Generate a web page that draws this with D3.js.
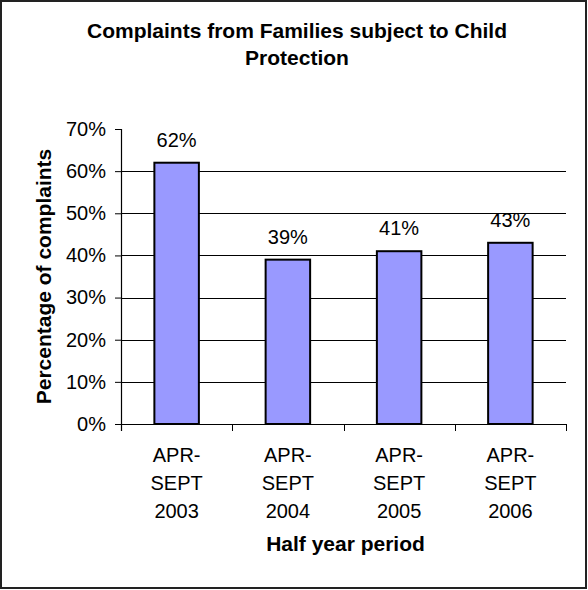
<!DOCTYPE html>
<html>
<head>
<meta charset="utf-8">
<script src="https://cdn.jsdelivr.net/npm/d3@7"></script>
<style>
  body { margin: 0; background: #fff; }
  svg text { font-family: "Liberation Sans", Arial, sans-serif; fill: #000; }
</style>
</head>
<body>
<div id="chart"></div>
<script>
// chart data
const periods = ["2003", "2004", "2005", "2006"];
const periodLines = [["APR-", "SEPT", "2003"], ["APR-", "SEPT", "2004"], ["APR-", "SEPT", "2005"], ["APR-", "SEPT", "2006"]];
const percentages = [0.62, 0.39, 0.41, 0.43];
const yTicks = [0, 0.1, 0.2, 0.3, 0.4, 0.5, 0.6, 0.7];
const titleLines = ["Complaints from Families subject to Child", "Protection"];

const width = 588, height = 590;
const plot = { left: 121, right: 566, top: 129, bottom: 424 };

let svg = d3.select("#chart").append("svg")
    .attr("width", width)
    .attr("height", height);

// outer border
svg.append("rect")
    .attr("x", 1).attr("y", 1)
    .attr("width", width - 3).attr("height", height - 3)
    .attr("fill", "#fff")
    .attr("stroke", "#222")
    .attr("stroke-width", 2);

let y = d3.scaleLinear().domain([0, 0.7]).range([plot.bottom, plot.top]);
let xCat = d3.scaleBand().domain(periods).range([plot.left, plot.right]);
let xBar = d3.scaleBand().domain(periods).range([plot.left, plot.right])
    .paddingInner(0.6).paddingOuter(0.3);

// gridlines (no line at the top value)
svg.append("g").selectAll("line")
    .data(yTicks.filter(d => d > 0 && d < 0.7))
    .enter()
    .append("line")
    .attr("x1", plot.left).attr("x2", plot.right)
    .attr("y1", d => Math.round(y(d)) + 0.5)
    .attr("y2", d => Math.round(y(d)) + 0.5)
    .attr("stroke", "#000")
    .attr("stroke-width", 1);

// bars
svg.append("g").selectAll("rect")
    .data(percentages)
    .enter()
    .append("rect")
    .attr("x", (d, i) => xBar(periods[i]))
    .attr("y", d => y(d))
    .attr("width", xBar.bandwidth())
    .attr("height", d => y(0) - y(d))
    .attr("fill", "#9999ff")
    .attr("stroke", "#000")
    .attr("stroke-width", 2);

// value labels
svg.append("g").selectAll("text")
    .data(percentages)
    .enter()
    .append("text")
    .attr("x", (d, i) => xBar(periods[i]) + xBar.bandwidth() / 2)
    .attr("y", d => y(d) - 16)
    .attr("text-anchor", "middle")
    .style("font-size", "20px")
    .text(d => d3.format(".0%")(d));

// y axis
let yAxis = svg.append("g")
    .attr("transform", "translate(" + plot.left + ",0)")
    .call(d3.axisLeft(y).tickValues(yTicks).tickFormat(d3.format(".0%")).tickSize(6).tickPadding(9));
yAxis.select(".domain").attr("stroke", "#000").attr("stroke-width", 1.2)
    .attr("d", "M0.5," + plot.top + "V" + (plot.bottom + 7));
yAxis.selectAll(".tick line").attr("stroke", "#000");
yAxis.selectAll(".tick text")
    .style("font-size", "20px")
    .style("font-family", "'Liberation Sans', Arial, sans-serif")
    .attr("fill", "#000");

// x axis line and boundary ticks
svg.append("line")
    .attr("x1", plot.left).attr("x2", plot.right)
    .attr("y1", plot.bottom + 0.5).attr("y2", plot.bottom + 0.5)
    .attr("stroke", "#000").attr("stroke-width", 1.2);

let boundaries = periods.map(p => xCat(p)).concat([plot.right]);
svg.append("g").selectAll("line")
    .data(boundaries)
    .enter()
    .append("line")
    .attr("x1", d => Math.round(d) + 0.5).attr("x2", d => Math.round(d) + 0.5)
    .attr("y1", plot.bottom).attr("y2", plot.bottom + 7)
    .attr("stroke", "#000");

// x tick labels
let xLabels = svg.append("g").selectAll("text")
    .data(periodLines)
    .enter()
    .append("text")
    .attr("text-anchor", "middle")
    .style("font-size", "20px");
xLabels.selectAll("tspan")
    .data((d, i) => d.map(t => ({ t: t, cx: xCat(periods[i]) + xCat.bandwidth() / 2 })))
    .enter()
    .append("tspan")
    .attr("x", d => d.cx)
    .attr("y", (d, j) => 462 + j * 28)
    .text(d => d.t);

// axis titles
svg.append("text")
    .attr("x", (plot.left + plot.right) / 2 + 2)
    .attr("y", 551)
    .attr("text-anchor", "middle")
    .style("font-size", "21px")
    .style("font-weight", "bold")
    .text("Half year period");

svg.append("text")
    .attr("transform", "translate(51," + ((plot.top + plot.bottom) / 2) + ") rotate(-90)")
    .attr("text-anchor", "middle")
    .style("font-size", "21px")
    .style("font-weight", "bold")
    .text("Percentage of complaints");

// chart title
svg.append("g").selectAll("text")
    .data(titleLines)
    .enter()
    .append("text")
    .attr("x", 297)
    .attr("y", (d, i) => 38 + i * 27)
    .attr("text-anchor", "middle")
    .style("font-size", "21px")
    .style("font-weight", "bold")
    .text(d => d);
</script>
</body>
</html>
